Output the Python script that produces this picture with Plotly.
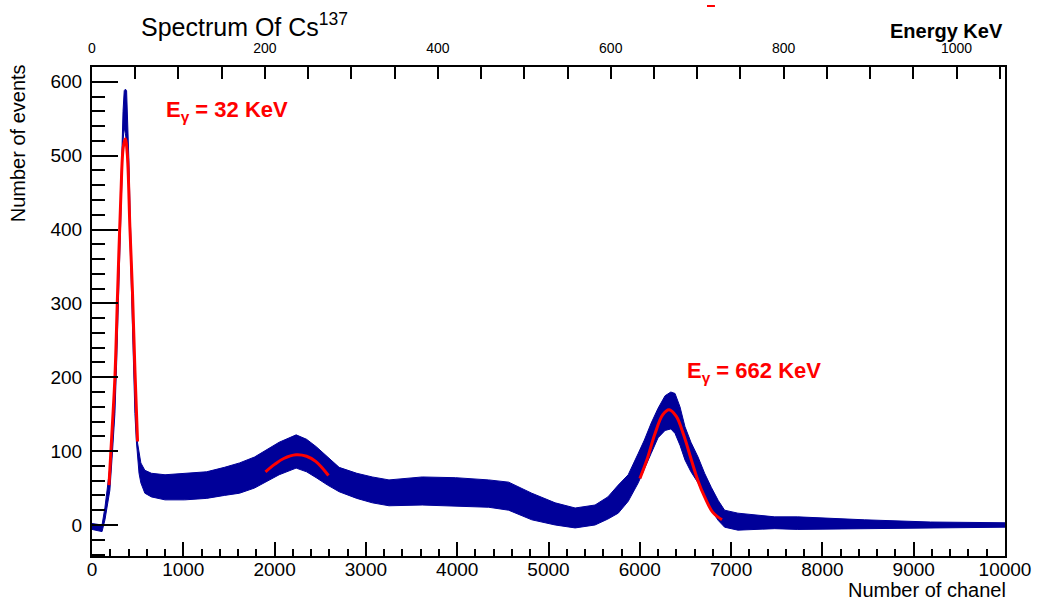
import plotly.graph_objects as go

# ---- data ----
channel = [0, 60, 110, 142, 170, 196, 225, 251, 270, 288, 305, 324, 340, 353, 366, 379, 392,
           404, 418, 433, 450, 470, 485, 499, 515, 535, 579, 651, 800, 1015, 1255, 1450, 1616,
           1780, 1906, 2050, 2236, 2350, 2456, 2580, 2707, 2900, 3070, 3253, 3617, 3982, 4345,
           4563, 4700, 4817, 5073, 5292, 5510, 5650, 5764, 5873, 5983, 6050, 6125, 6200, 6277,
           6340, 6386, 6440, 6495, 6560, 6638, 6710, 6783, 6860, 6929, 7074, 7478, 7729, 8460,
           9185, 10000]
upper = [2, 1, 0, 24, 50, 78, 125, 178, 250, 330, 420, 511, 560, 588, 590, 588, 550,
         494, 420, 349, 270, 178, 140, 111, 100, 84, 74, 70, 68, 70, 72, 78, 84,
         92, 101, 112, 122, 116, 106, 92, 78, 70, 65, 61, 65, 64, 61,
         58, 50, 43, 30, 23, 27, 38, 54, 68, 97, 115, 138, 158, 175,
         180, 178, 160, 133, 112, 92, 70, 51, 33, 20, 16, 11, 11, 7,
         4, 3]
lower = [-6, -8, -9, 7, 28, 47, 100, 151, 220, 300, 390, 484, 520, 538, 530, 516, 480,
         449, 380, 304, 230, 151, 115, 88, 70, 57, 43, 38, 34, 34, 36, 40, 43,
         50, 58, 68, 77, 72, 64, 54, 45, 36, 30, 26, 27, 25, 24,
         20, 13, 7, 0, -4, 0, 8, 16, 32, 57, 75, 97, 118, 128,
         130, 124, 108, 88, 72, 57, 38, 20, 6, -3, -7, -5, -6, -5,
         -4, -3]

fit1_ch = [186, 222, 251, 280, 317, 342, 365, 386, 415, 444, 470, 499]
fit1_val = [54, 133, 200, 313, 449, 511, 523, 503, 403, 313, 210, 113]

fit2_ch = [1900, 2000, 2100, 2235, 2350, 2450, 2590]
fit2_val = [72, 82, 90, 95, 93, 86, 67]

fit3_ch = [6001, 6080, 6165, 6250, 6321, 6400, 6480, 6565, 6640, 6710, 6800, 6900]
fit3_val = [63, 89, 123, 149, 156, 147, 122, 88, 59, 38, 17, 7]

x_range = [0, 10000]
y_range = [-42, 620]
energy_range = [0, 1056]

# ---- layout geometry (pixels) ----
W, H = 1043, 601
L, R, T, B = 92, 35, 67, 45
PW, PH = W - L - R, H - T - B


def px(x):
    return (x - L) / PW


def py(y):
    return 1 - (y - T) / PH


FONT = "Liberation Sans"
BLUE = "#000099"
RED = "#ff0000"

fig = go.Figure()
fig.add_trace(go.Scatter(x=channel, y=lower, mode="lines", line=dict(color=BLUE, width=1),
                         hoverinfo="skip", showlegend=False))
fig.add_trace(go.Scatter(x=channel, y=upper, mode="lines", line=dict(color=BLUE, width=1),
                         fill="tonexty", fillcolor=BLUE, showlegend=False))
for fx, fy in [(fit1_ch, fit1_val), (fit2_ch, fit2_val), (fit3_ch, fit3_val)]:
    fig.add_trace(go.Scatter(x=fx, y=fy, mode="lines", line=dict(color=RED, width=3, shape="spline"),
                             showlegend=False))
# invisible trace so that the top energy axis is drawn
fig.add_trace(go.Scatter(x=energy_range, y=[None, None], xaxis="x2", yaxis="y", mode="lines",
                         hoverinfo="skip", showlegend=False))

tickfont = dict(family=FONT, size=19, color="black")

fig.update_layout(
    width=W, height=H,
    margin=dict(l=L, r=R, t=T, b=B, pad=0),
    paper_bgcolor="white", plot_bgcolor="white",
    showlegend=False,
    xaxis=dict(range=x_range, showgrid=False, zeroline=False, showline=True, linecolor="black",
               linewidth=2, mirror=False, ticks="inside", ticklen=14, tickwidth=1.5, tickcolor="black",
               tick0=0, dtick=1000, tickformat="d", tickfont=tickfont, ticklabelstandoff=-5,
               minor=dict(ticks="inside", dtick=200, ticklen=7, tickwidth=1.5, tickcolor="black")),
    xaxis2=dict(range=energy_range, overlaying="x", side="top", anchor="y", showgrid=False,
                zeroline=False, showline=True, linecolor="black", linewidth=2,
                ticks="inside", ticklen=12, tickwidth=1.5, tickcolor="black", tick0=0, dtick=200,
                tickformat="d", tickfont=dict(family=FONT, size=14, color="black"), ticklabelstandoff=6,
                minor=dict(ticks="inside", dtick=50, ticklen=12, tickwidth=1.5, tickcolor="black")),
    yaxis=dict(range=y_range, showgrid=False, zeroline=False, showline=True, linecolor="black",
               linewidth=2, mirror=True, ticks="inside", ticklen=26, tickwidth=1.5, tickcolor="black",
               tick0=0, dtick=100, tickformat="d", tickfont=tickfont, ticklabelstandoff=4,
               minor=dict(ticks="inside", dtick=20, ticklen=13, tickwidth=1.5, tickcolor="black")),
)

annos = [
    dict(text="Spectrum Of Cs<sup>137</sup>", x=px(139), y=py(25), xanchor="left", yanchor="middle",
         font=dict(family=FONT, size=25, color="black")),
    dict(text="<b>Energy KeV</b>", x=px(1008), y=py(31), xanchor="right", yanchor="middle",
         font=dict(family=FONT, size=20, color="black")),
    dict(text="Number of chanel", x=px(1011), y=py(590), xanchor="right", yanchor="middle",
         font=dict(family=FONT, size=20, color="black")),
    dict(text="Number of events", x=px(18), y=py(143), xanchor="center", yanchor="middle",
         textangle=-90, font=dict(family=FONT, size=20, color="black")),
    dict(text="<b>E<sub>γ</sub> = 32 KeV</b>", x=px(164), y=py(111), xanchor="left", yanchor="middle",
         font=dict(family=FONT, size=22, color=RED)),
    dict(text="<b>E<sub>γ</sub> = 662 KeV</b>", x=px(687), y=py(372), xanchor="left", yanchor="middle",
         font=dict(family=FONT, size=22, color=RED)),
]
for a in annos:
    fig.add_annotation(xref="paper", yref="paper", showarrow=False, **a)

fig.add_shape(type="line", xref="paper", yref="paper", x0=px(709), x1=px(717), y0=py(6), y1=py(6),
              line=dict(color=RED, width=2))

fig.write_html("out.html", config={"displayModeBar": False},
               post_script="document.body.style.margin='0';")
